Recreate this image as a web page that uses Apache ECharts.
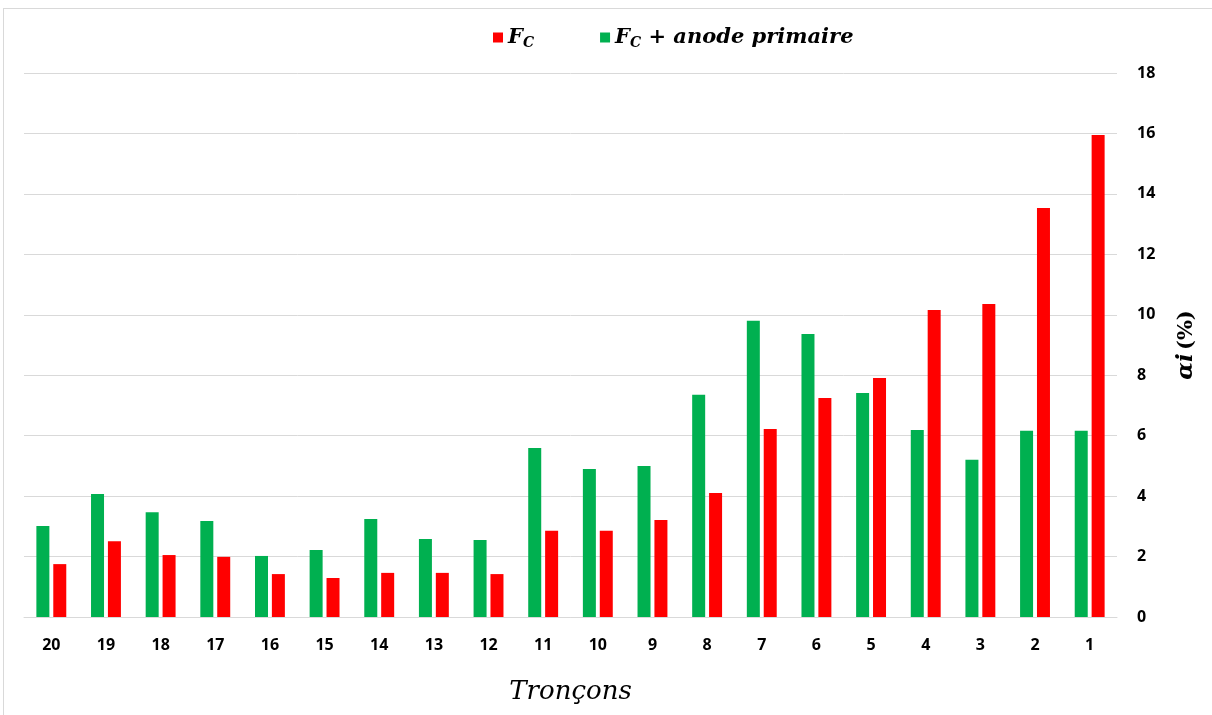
<!DOCTYPE html>
<html>
<head>
<meta charset="utf-8">
<script src="https://cdn.jsdelivr.net/npm/echarts@6/dist/echarts.min.js"></script>
<style>
html, body { margin: 0; padding: 0; background: #fff; }
#frame { position: absolute; left: 3px; top: 8px; width: 1212px; height: 710px; border: 1px solid #d9d9d9; box-sizing: border-box; }
#main { position: absolute; left: 0; top: 0; width: 1212px; height: 715px; }
</style>
</head>
<body>
<div id="frame"></div>
<div id="main"></div>
<script>
var categories = ['20', '19', '18', '17', '16', '15', '14', '13', '12', '11', '10', '9', '8', '7', '6', '5', '4', '3', '2', '1'];
var anodeValues = [3.01, 4.07, 3.47, 3.18, 2.02, 2.22, 3.24, 2.58, 2.55, 5.59, 4.90, 5.00, 7.35, 9.80, 9.36, 7.41, 6.19, 5.20, 6.16, 6.16];
var fcValues = [1.75, 2.51, 2.05, 1.99, 1.42, 1.29, 1.46, 1.46, 1.42, 2.85, 2.85, 3.21, 4.10, 6.22, 7.25, 7.91, 10.16, 10.36, 13.53, 15.95];
var yTicks = { min: 0, max: 18, interval: 2 };

var dom = document.getElementById('main');
var myChart = echarts.init(dom);

var mathFont = '"DejaVu Serif", serif';
var labelFont = '"Open Sans", sans-serif';

var option = {
    animation: false,
    legend: {
        top: 22,
        left: 488,
        itemWidth: 10,
        itemHeight: 10,
        itemGap: 66,
        icon: 'rect',
        data: ['F_C', 'F_C + anode primaire'],
        formatter: function (name) {
            if (name === 'F_C') return '{b|F}{s|C}';
            return '{b|F}{s|C}{b| + anode primaire}';
        },
        textStyle: {
            rich: {
                b: { fontFamily: mathFont, fontStyle: 'italic', fontWeight: 'bold', fontSize: 21, color: '#000' },
                s: { fontFamily: mathFont, fontStyle: 'italic', fontWeight: 'bold', fontSize: 14, color: '#000', padding: [11, 0, 0, 0] }
            }
        }
    },
    grid: {
        left: 24,
        right: 95,
        top: 73,
        bottom: 98
    },
    xAxis: {
        type: 'category',
        data: categories,
        name: 'Tronçons',
        nameLocation: 'middle',
        nameGap: 62,
        nameTextStyle: { fontFamily: mathFont, fontStyle: 'italic', fontSize: 26, color: '#000' },
        axisLine: { lineStyle: { color: '#d9d9d9', width: 1 } },
        axisTick: { show: false },
        axisLabel: { margin: 20, fontFamily: labelFont, fontWeight: 'bold', fontSize: 16, color: '#000' }
    },
    yAxis: {
        type: 'value',
        position: 'right',
        min: yTicks.min,
        max: yTicks.max,
        interval: yTicks.interval,
        name: '{i|αi} {n|(%)}',
        nameLocation: 'middle',
        nameRotate: 90,
        nameGap: 58,
        nameTextStyle: {
            rich: {
                i: { fontFamily: mathFont, fontStyle: 'italic', fontWeight: 'bold', fontSize: 23, color: '#000' },
                n: { fontFamily: mathFont, fontWeight: 'bold', fontSize: 21, color: '#000' }
            }
        },
        axisLine: { show: false },
        axisTick: { show: false },
        splitLine: { lineStyle: { color: '#d9d9d9', width: 1 } },
        axisLabel: { margin: 20, fontFamily: labelFont, fontWeight: 'bold', fontSize: 16, color: '#000' }
    },
    series: [
        {
            name: 'F_C + anode primaire',
            type: 'bar',
            data: anodeValues,
            barWidth: 13,
            barGap: '30%',
            itemStyle: { color: '#00b050' }
        },
        {
            name: 'F_C',
            type: 'bar',
            data: fcValues,
            barWidth: 13,
            itemStyle: { color: '#ff0000' }
        }
    ]
};

if (option && typeof option === 'object') {
    myChart.setOption(option);
}
</script>
</body>
</html>
